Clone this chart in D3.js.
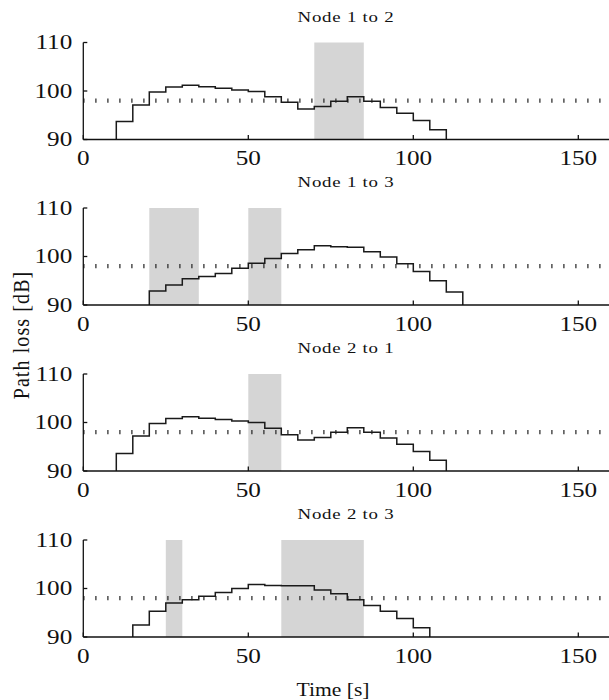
<!DOCTYPE html>
<html><head><meta charset="utf-8">
<script src="https://cdn.jsdelivr.net/npm/d3@7"></script>
<style>
html,body{margin:0;padding:0;background:#fff;}
svg{display:block;}
</style></head>
<body>
<script>
// ---- data ----
const titles = ["Node 1 to 2", "Node 1 to 3", "Node 2 to 1", "Node 2 to 3"];
const stepWidth = 5; // seconds per step
const startTimes = [10, 20, 10, 15];
const loss12 = [93.7, 97.1, 99.8, 100.8, 101.2, 100.9, 100.55, 100.2, 99.9, 98.8, 97.7, 96.3, 96.8, 97.9, 98.8, 97.9, 96.6, 95.4, 93.9, 92.0];
const loss13 = [92.9, 94.1, 95.4, 95.9, 96.5, 97.6, 98.6, 99.6, 100.6, 101.4, 102.2, 102.0, 101.9, 101.0, 99.9, 98.5, 96.9, 95.0, 92.7];
const loss21 = [93.6, 97.2, 99.8, 100.8, 101.2, 100.9, 100.6, 100.3, 100.0, 98.8, 97.5, 96.4, 96.9, 98.0, 98.9, 98.0, 96.8, 95.5, 94.0, 92.2];
const loss23 = [92.5, 95.3, 97.0, 97.7, 98.4, 99.2, 100.0, 100.8, 100.6, 100.55, 100.55, 99.7, 98.9, 97.7, 96.5, 95.3, 93.8, 91.9];
const shaded12 = [[70, 85]];
const shaded13 = [[20, 35], [50, 60]];
const shaded21 = [[50, 60]];
const shaded23 = [[25, 30], [60, 85]];
const threshold = 98;
const xTicks = [0, 50, 100, 150];
const yTicks = [90, 100, 110];
const xLabel = "Time [s]";
const yLabel = "Path loss [dB]";

const series = [loss12, loss13, loss21, loss23];
const shaded = [shaded12, shaded13, shaded21, shaded23];

// ---- layout ----
const W = 609, H = 700;
const panelTops = [42.5, 208, 374, 540];
const panelH = 97;
const x = d3.scaleLinear().domain([0, 160]).range([83.3, 611.3]);
const FONT = "'Liberation Serif', 'Times New Roman', serif";

const svg = d3.select("body").append("svg").attr("width", W).attr("height", H);

panelTops.forEach((top, i) => {
  const y = d3.scaleLinear().domain([90, 110]).range([top + panelH, top]);
  const g = svg.append("g");

  // shaded intervals
  g.selectAll("rect.sh").data(shaded[i]).join("rect")
    .attr("x", d => x(d[0])).attr("width", d => x(d[1]) - x(d[0]))
    .attr("y", y(110)).attr("height", y(90) - y(110))
    .attr("fill", "#d5d5d5");

  // threshold dotted line
  g.append("line")
    .attr("x1", x(0)).attr("x2", x(160))
    .attr("y1", y(threshold)).attr("y2", y(threshold))
    .attr("stroke", "#222").attr("stroke-width", 4.2)
    .attr("stroke-dasharray", "1.2 10.8");

  // step line
  const vals = series[i];
  const t0 = startTimes[i];
  const times = vals.map((_, k) => t0 + k * stepWidth);
  const tEnd = t0 + vals.length * stepWidth;
  const pts = [[t0, 90]].concat(vals.map((v, k) => [times[k], v]), [[tEnd, vals[vals.length - 1]], [tEnd, 90]]);
  const line = d3.line().x(d => x(d[0])).y(d => y(d[1])).curve(d3.curveStepAfter);
  g.append("path").attr("d", line(pts))
    .attr("fill", "none").attr("stroke", "#1a1a1a").attr("stroke-width", 1.5);

  // axes
  const ax = g.append("g").attr("stroke", "#111").attr("stroke-width", 1.3).attr("fill", "none");
  ax.append("line").attr("x1", x(0)).attr("x2", x(0)).attr("y1", y(110)).attr("y2", y(90));
  ax.append("line").attr("x1", x(0)).attr("x2", x(160)).attr("y1", y(90)).attr("y2", y(90));
  yTicks.forEach(t => {
    ax.append("line").attr("x1", x(0)).attr("x2", x(0) + 4).attr("y1", y(t)).attr("y2", y(t));
  });
  xTicks.forEach(t => {
    ax.append("line").attr("x1", x(t)).attr("x2", x(t)).attr("y1", y(90)).attr("y2", y(90) - 4.5);
  });

  // tick labels
  yTicks.forEach(t => {
    g.append("text")
      .attr("transform", `translate(${x(0) - 11},${y(t) + 6.8}) scale(1.26,1)`)
      .attr("text-anchor", "end")
      .attr("font-family", FONT).attr("font-size", 20).attr("fill", "#111")
      .text(t);
  });
  xTicks.forEach(t => {
    g.append("text")
      .attr("transform", `translate(${x(t)},${y(90) + 25.5}) scale(1.26,1)`)
      .attr("text-anchor", "middle")
      .attr("font-family", FONT).attr("font-size", 20).attr("fill", "#111")
      .text(t);
  });

  // title
  g.append("text")
    .attr("transform", `translate(346,${top - 21}) scale(1.3,1)`)
    .attr("text-anchor", "middle")
    .attr("font-family", FONT).attr("font-size", 14.5).attr("letter-spacing", 0.6).attr("fill", "#111")
    .text(titles[i]);
});

// axis labels
svg.append("text")
  .attr("transform", "translate(333,696) scale(1.2,1)")
  .attr("text-anchor", "middle")
  .attr("font-family", FONT).attr("font-size", 18).attr("fill", "#111")
  .text(xLabel);
svg.append("text")
  .attr("transform", "translate(29,335) rotate(-90) scale(1,1.2)")
  .attr("text-anchor", "middle")
  .attr("font-family", FONT).attr("font-size", 20).attr("letter-spacing", 1.1).attr("fill", "#111")
  .text(yLabel);
</script>
</body></html>
